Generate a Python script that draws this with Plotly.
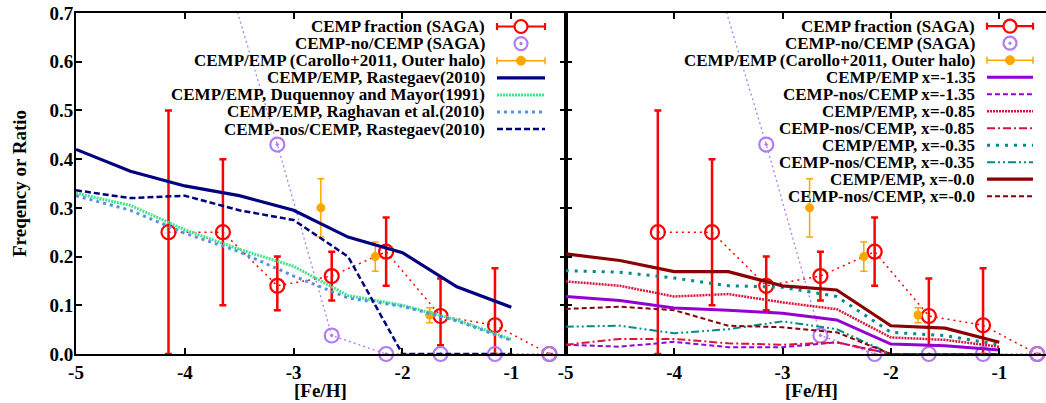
import plotly.graph_objects as go

# ---------------- data ----------------
feh_saga = [-4.15, -3.65, -3.15, -2.65, -2.15, -1.65, -1.15, -0.65]
cemp_frac = [0.25, 0.25, 0.14, 0.16, 0.21, 0.078, 0.059, 0.0]
cemp_frac_hi = [0.50, 0.40, 0.20, 0.21, 0.28, 0.155, 0.176, 0.0]
cemp_frac_lo = [0.0, 0.10, 0.09, 0.11, 0.14, 0.018, 0.0, 0.0]

feh_cno = [-3.65, -3.15, -2.65, -2.15, -1.65, -1.15, -0.65]
cemp_no_ratio = [0.80, 0.43, 0.038, 0.0, 0.0, 0.0, 0.0]

feh_carollo = [-2.75, -2.25, -1.75]
carollo = [0.30, 0.20, 0.08]
carollo_hi = [0.36, 0.23, 0.095]
carollo_lo = [0.24, 0.17, 0.064]

feh_model = [-5.0, -4.5, -4.0, -3.5, -3.0, -2.5, -2.0, -1.5, -1.0]
rast_cemp = [0.42, 0.375, 0.345, 0.325, 0.295, 0.24, 0.208, 0.138, 0.096]
duq_cemp = [0.33, 0.305, 0.255, 0.215, 0.18, 0.12, 0.10, 0.07, 0.03]
ragh_cemp = [0.325, 0.295, 0.248, 0.21, 0.16, 0.115, 0.098, 0.068, 0.028]
rast_nos = [0.336, 0.32, 0.325, 0.295, 0.275, 0.20, 0.0, 0.0, 0.0]

x135_cemp = [0.118, 0.11, 0.0945, 0.09, 0.0836, 0.070, 0.0205, 0.017, 0.008]
x135_nos = [0.019, 0.015, 0.025, 0.014, 0.014, 0.024, 0.0, 0.0, 0.0]
x085_cemp = [0.149, 0.14, 0.118, 0.123, 0.106, 0.092, 0.034, 0.029, 0.015]
x085_nos = [0.019, 0.031, 0.031, 0.022, 0.019, 0.024, 0.0, 0.0, 0.0]
x035_cemp = [0.171, 0.168, 0.156, 0.140, 0.137, 0.118, 0.0445, 0.0377, 0.019]
x035_nos = [0.056, 0.058, 0.0425, 0.051, 0.067, 0.051, 0.0, 0.0, 0.0]
x000_cemp = [0.2055, 0.192, 0.169, 0.169, 0.140, 0.1315, 0.058, 0.053, 0.024]
x000_nos = [0.0925, 0.097, 0.090, 0.058, 0.055, 0.0445, 0.0, 0.0, 0.0]

x_tick_vals = [-5, -4, -3, -2, -1]
x_tick_text = ["-5", "-4", "-3", "-2", "-1"]
y_tick_vals = [0.0, 0.1, 0.2, 0.3, 0.4, 0.5, 0.6, 0.7]
y_tick_text = ["0.0", "0.1", "0.2", "0.3", "0.4", "0.5", "0.6", "0.7"]

x_title = "[Fe/H]"
y_title = "Freqency or Ratio"

left_labels = [
    "CEMP fraction (SAGA)", "CEMP-no/CEMP (SAGA)", "CEMP/EMP (Carollo+2011, Outer halo)",
    "CEMP/EMP, Rastegaev(2010)", "CEMP/EMP, Duquennoy and Mayor(1991)",
    "CEMP/EMP, Raghavan et al.(2010)", "CEMP-nos/CEMP, Rastegaev(2010)",
]
right_labels = [
    "CEMP fraction (SAGA)", "CEMP-no/CEMP (SAGA)", "CEMP/EMP (Carollo+2011, Outer halo)",
    "CEMP/EMP x=-1.35", "CEMP-nos/CEMP x=-1.35", "CEMP/EMP, x=-0.85", "CEMP-nos/CEMP, x=-0.85",
    "CEMP/EMP, x=-0.35", "CEMP-nos/CEMP, x=-0.35", "CEMP/EMP, x=-0.0", "CEMP-nos/CEMP, x=-0.0",
]

# ---------------- styles ----------------
RED = "#ff0000"
PURP = "#b07cf5"
ORANGE = "#ffa500"
FONT = "Liberation Serif, Times New Roman, serif"

line_styles = {
    "CEMP/EMP, Rastegaev(2010)": dict(color="#000080", width=3.2, dash="solid"),
    "CEMP/EMP, Duquennoy and Mayor(1991)": dict(color="#3ee88a", width=3, dash="2px,1px"),
    "CEMP/EMP, Raghavan et al.(2010)": dict(color="#5a8fe8", width=3, dash="3px,4px"),
    "CEMP-nos/CEMP, Rastegaev(2010)": dict(color="#000080", width=2.5, dash="6px,3px"),
    "CEMP/EMP x=-1.35": dict(color="#9400d3", width=3, dash="solid"),
    "CEMP-nos/CEMP x=-1.35": dict(color="#9400d3", width=2, dash="5px,3px"),
    "CEMP/EMP, x=-0.85": dict(color="#dc143c", width=2.5, dash="2px,1px"),
    "CEMP-nos/CEMP, x=-0.85": dict(color="#dc143c", width=2, dash="8px,3px,2px,3px"),
    "CEMP/EMP, x=-0.35": dict(color="#008b8b", width=3, dash="3px,6px"),
    "CEMP-nos/CEMP, x=-0.35": dict(color="#008b8b", width=2, dash="8px,3px,2px,3px,2px,3px"),
    "CEMP/EMP, x=-0.0": dict(color="#8b0000", width=3.2, dash="solid"),
    "CEMP-nos/CEMP, x=-0.0": dict(color="#8b0000", width=2, dash="5px,3px"),
}

left_models = [
    ("CEMP/EMP, Rastegaev(2010)", rast_cemp),
    ("CEMP/EMP, Duquennoy and Mayor(1991)", duq_cemp),
    ("CEMP/EMP, Raghavan et al.(2010)", ragh_cemp),
    ("CEMP-nos/CEMP, Rastegaev(2010)", rast_nos),
]
right_models = [
    ("CEMP/EMP x=-1.35", x135_cemp),
    ("CEMP-nos/CEMP x=-1.35", x135_nos),
    ("CEMP/EMP, x=-0.85", x085_cemp),
    ("CEMP-nos/CEMP, x=-0.85", x085_nos),
    ("CEMP/EMP, x=-0.35", x035_cemp),
    ("CEMP-nos/CEMP, x=-0.35", x035_nos),
    ("CEMP/EMP, x=-0.0", x000_cemp),
    ("CEMP-nos/CEMP, x=-0.0", x000_nos),
]

YMAX = 0.7
fig = go.Figure()


def add_observations(xa, ya):
    fig.add_trace(go.Scatter(x=feh_saga, y=cemp_frac, mode="lines", xaxis=xa, yaxis=ya,
                             line=dict(color=RED, width=1.5, dash="2px,4px"),
                             showlegend=False, hoverinfo="skip"))
    fig.add_trace(go.Scatter(
        x=feh_saga, y=cemp_frac, mode="markers", xaxis=xa, yaxis=ya,
        name="CEMP fraction (SAGA)", showlegend=False, cliponaxis=False,
        marker=dict(symbol="circle-open", size=14, color=RED, line=dict(width=2.2, color=RED)),
        error_y=dict(type="data", symmetric=False,
                     array=[h - v for h, v in zip(cemp_frac_hi, cemp_frac)],
                     arrayminus=[v - l for v, l in zip(cemp_frac, cemp_frac_lo)],
                     color=RED, thickness=2.5, width=3.5)))
    fig.add_trace(go.Scatter(x=feh_cno, y=cemp_no_ratio, mode="lines", xaxis=xa, yaxis=ya,
                             line=dict(color=PURP, width=1.3, dash="2px,3px"),
                             showlegend=False, hoverinfo="skip"))
    inx = [x for x, y in zip(feh_cno, cemp_no_ratio) if y <= YMAX]
    iny = [y for y in cemp_no_ratio if y <= YMAX]
    fig.add_trace(go.Scatter(
        x=inx, y=iny, mode="markers", xaxis=xa, yaxis=ya, cliponaxis=False,
        name="CEMP-no/CEMP (SAGA)", showlegend=False,
        marker=dict(symbol="circle-open-dot", size=14, color=PURP, line=dict(width=2.2, color=PURP))))
    fig.add_trace(go.Scatter(
        x=feh_carollo, y=carollo, mode="markers", xaxis=xa, yaxis=ya,
        name="CEMP/EMP (Carollo+2011, Outer halo)", showlegend=False,
        marker=dict(symbol="circle", size=9, color=ORANGE),
        error_y=dict(type="data", symmetric=False,
                     array=[h - v for h, v in zip(carollo_hi, carollo)],
                     arrayminus=[v - l for v, l in zip(carollo, carollo_lo)],
                     color=ORANGE, thickness=1.5, width=3.5)))


def add_models(models, xa, ya):
    for label, vals in models:
        st = line_styles[label]
        fig.add_trace(go.Scatter(x=feh_model, y=vals, mode="lines", xaxis=xa, yaxis=ya,
                                 name=label, showlegend=False,
                                 line=dict(color=st["color"], width=st["width"], dash=st["dash"])))


add_observations("x", "y")
add_models(left_models, "x", "y")
add_observations("x2", "y2")
add_models(right_models, "x2", "y2")

# ---------------- layout geometry ----------------
W, H = 1046, 403
ML, MR, MT, MB = 76, 0, 13, 49
PW, PH = W - ML - MR, H - MT - MB
SPLIT_PX = 565.7
split = (SPLIT_PX - ML) / PW


def px(xp):
    return (xp - ML) / PW


def py(yp):
    return (H - MB - yp) / PH


tickfont = dict(family=FONT, size=19, color="black", weight="bold")
titlefont = dict(family=FONT, size=19, color="black", weight="bold")
axis_common = dict(showline=True, linecolor="black", linewidth=2, ticks="inside", ticklen=6,
                   tickwidth=1.5, tickcolor="black", showgrid=False, zeroline=False, tickfont=tickfont)

fig.update_layout(
    width=W, height=H, margin=dict(l=ML, r=MR, t=MT, b=MB),
    paper_bgcolor="white", plot_bgcolor="white", showlegend=False,
    font=dict(family=FONT, color="black"),
    xaxis=dict(domain=[0, split], range=[-5, -0.5], tickvals=x_tick_vals, ticktext=x_tick_text,
               mirror="ticks", **axis_common),
    yaxis=dict(domain=[0, 1], range=[0, YMAX], tickvals=y_tick_vals, ticktext=y_tick_text,
               mirror="ticks", anchor="x", ticklabelstandoff=-3, **axis_common),
    xaxis2=dict(domain=[split, 1], range=[-5, -5 + (W - SPLIT_PX) / 108.4], tickvals=x_tick_vals,
                ticktext=x_tick_text, mirror="ticks", anchor="y2", **axis_common),
    yaxis2=dict(domain=[0, 1], range=[0, YMAX], tickvals=y_tick_vals, showticklabels=False,
                anchor="x2", **axis_common),
)

shapes = []
annotations = []

# axis titles
annotations.append(dict(text="<b>" + x_title + "</b>", xref="paper", yref="paper",
                        x=px((ML + SPLIT_PX) / 2), y=py(391), xanchor="center", yanchor="middle",
                        showarrow=False, font=titlefont))
annotations.append(dict(text="<b>" + x_title + "</b>", xref="paper", yref="paper",
                        x=px((SPLIT_PX + 1046 + 12) / 2), y=py(391), xanchor="center", yanchor="middle",
                        showarrow=False, font=titlefont))
annotations.append(dict(text="<b>" + y_title + "</b>", xref="paper", yref="paper",
                        x=px(19), y=py(184), xanchor="center", yanchor="middle", textangle=-90,
                        showarrow=False, font=titlefont))

# ---------------- hand-made legends (text left of sample, gnuplot style) ----------------
legfont = dict(family=FONT, size=17, color="black", weight="bold")


def hline(x0, x1, y, color, width, dash="solid"):
    shapes.append(dict(type="line", xref="paper", yref="paper", x0=px(x0), x1=px(x1), y0=py(y), y1=py(y),
                       line=dict(color=color, width=width, dash=dash)))


def vline(x, y0, y1, color, width):
    shapes.append(dict(type="line", xref="paper", yref="paper", x0=px(x), x1=px(x), y0=py(y0), y1=py(y1),
                       line=dict(color=color, width=width)))


def circle(xc, yc, r, color, width, fill=None):
    shapes.append(dict(type="circle", xref="paper", yref="paper", x0=px(xc - r), x1=px(xc + r),
                       y0=py(yc + r), y1=py(yc - r), line=dict(color=color, width=width),
                       fillcolor=fill if fill else "rgba(0,0,0,0)"))


def build_legend(labels, text_right, s0, s1, y0, dy):
    mid = (s0 + s1) / 2
    for i, lab in enumerate(labels):
        y = y0 + i * dy
        annotations.append(dict(text="<b>" + lab + "</b>", xref="paper", yref="paper", x=px(text_right),
                                y=py(y), xanchor="right", yanchor="middle", showarrow=False,
                                font=legfont, borderpad=0))
        if lab == "CEMP fraction (SAGA)":
            hline(s0, s1, y, RED, 2.2)
            vline(s0, y - 3.5, y + 3.5, RED, 2.2)
            vline(s1, y - 3.5, y + 3.5, RED, 2.2)
            circle(mid, y, 6.5, RED, 2.2, "white")
        elif lab == "CEMP-no/CEMP (SAGA)":
            circle(mid, y, 6.5, PURP, 2.2)
            circle(mid, y, 1.2, PURP, 1, PURP)
        elif lab == "CEMP/EMP (Carollo+2011, Outer halo)":
            hline(s0, s1, y, ORANGE, 1.5)
            vline(s0, y - 3.5, y + 3.5, ORANGE, 1.5)
            vline(s1, y - 3.5, y + 3.5, ORANGE, 1.5)
            circle(mid, y, 4.5, ORANGE, 1, ORANGE)
        else:
            st = line_styles[lab]
            hline(s0, s1, y, st["color"], st["width"], st["dash"])


build_legend(left_labels, 486, 497, 545, 26.5, 17.1)
build_legend(right_labels, 976, 987, 1033, 26.2, 17.0)

fig.update_layout(shapes=shapes, annotations=annotations)
# place the figure at the top-left corner of the page (remove the default body margin)
fig.write_html("out.html", config={"displayModeBar": False},
               post_script="document.body.style.margin='0';document.body.style.overflow='hidden';")
